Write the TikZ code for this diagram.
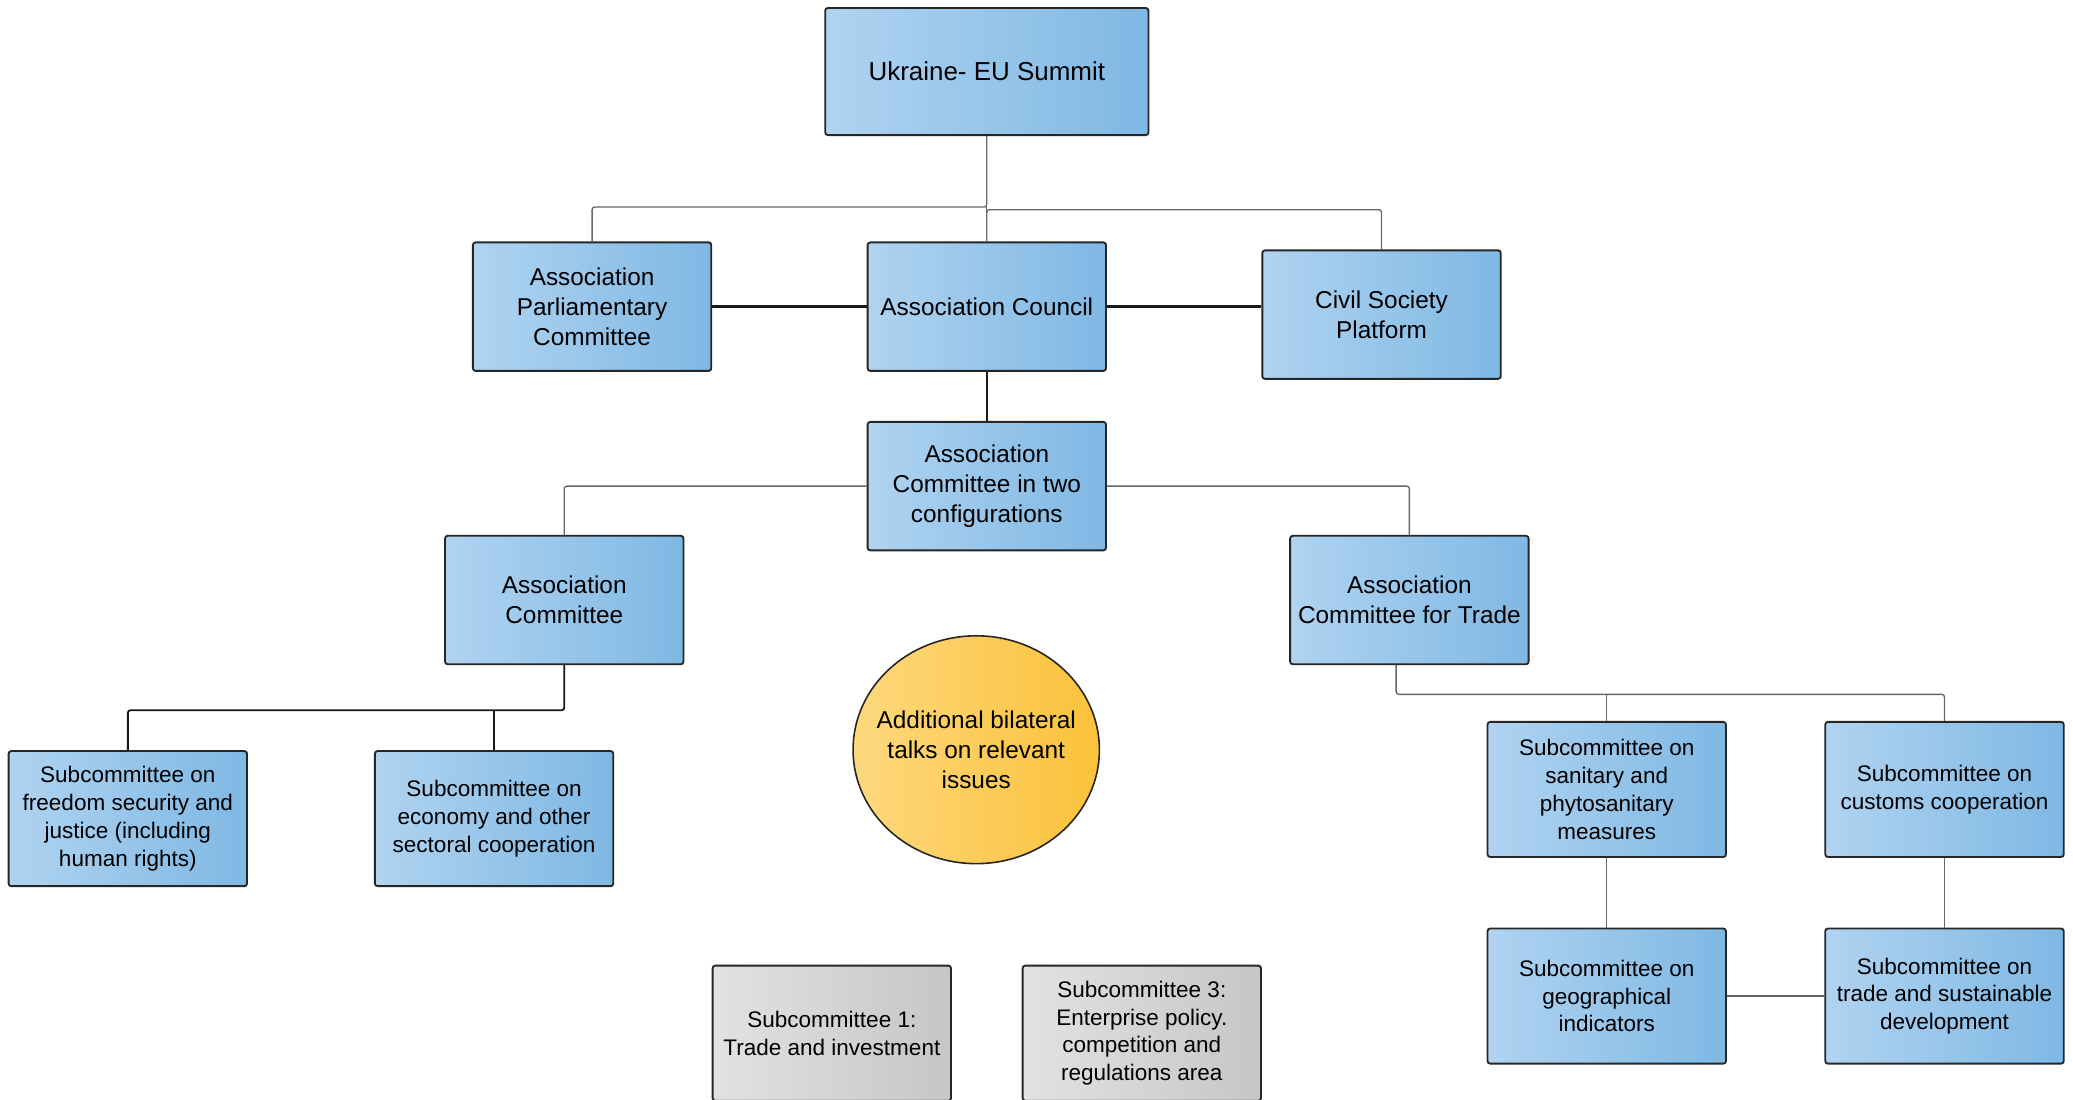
\documentclass[tikz,border=0pt]{standalone}
\usepackage{fontspec}
\setmainfont{Liberation Sans}
\usepackage{tikz}
\usetikzlibrary{positioning,shapes.geometric}

\definecolor{boxlight}{HTML}{B0D3F0}
\definecolor{boxdark}{HTML}{7FB8E4}
\definecolor{greylight}{HTML}{E2E2E2}
\definecolor{greydark}{HTML}{C6C6C6}
\definecolor{sunlight}{HTML}{FDD87E}
\definecolor{sundark}{HTML}{FBC23A}

\tikzset{
  bluebox/.style={draw=black!85, line width=0.7pt, rounded corners=1pt,
    left color=boxlight, right color=boxdark, align=center,
    minimum width=90pt, minimum height=48.5pt, inner sep=2pt,
    font=\fontsize{9.2}{11.25}\selectfont},
  subbox/.style={bluebox, minimum height=51pt,
    font=\fontsize{8.5}{10.5}\selectfont},
  greybox/.style={subbox, left color=greylight, right color=greydark},
  talks/.style={ellipse, draw=black!85, line width=0.6pt,
    left color=sunlight, right color=sundark, align=center,
    minimum width=93pt, minimum height=86pt, inner xsep=-5pt, inner ysep=0pt,
    font=\fontsize{9.2}{11.25}\selectfont},
  thinline/.style={draw=black!60, line width=0.5pt, rounded corners=1pt},
  boldline/.style={draw=black!90, line width=0.9pt, rounded corners=1pt}
}

\begin{document}
\begin{tikzpicture}[x=0.5pt, y=-0.5pt]
  \useasboundingbox (0,0) rectangle (1565,830);
  \node (summit) [bluebox, minimum width=122pt, minimum height=48pt,
    font=\fontsize{9.8}{12}\selectfont] at (745,54) {Ukraine- EU Summit};
  \node (council) [bluebox] at (745,231.5) {Association Council};
  \node (apc) [bluebox] at (447,231.5) {Association\\Parliamentary\\Committee};
  \node (csp) [bluebox] at (1043,237.5) {Civil Society\\Platform};
  \node (actwo) [bluebox] at (745,367) {Association\\Committee in two\\configurations};
  \node (ac) [bluebox] at (426,453) {Association\\Committee};
  \node (act) [bluebox] at (1064,453) {Association\\Committee for Trade};
  \node (subfree) [subbox] at (96.5,618)
    {Subcommittee on\\freedom security and\\justice (including\\human rights)};
  \node (subecon) [subbox] at (373,618)
    {Subcommittee on\\economy and other\\sectoral cooperation};
  \node (talks) [talks] at (737,566)
    {Additional bilateral\\talks on relevant\\issues};
  \node (sub1) [greybox] at (628,780) {Subcommittee 1:\\Trade and investment};
  \node (sub3) [greybox] at (862,780)
    {Subcommittee 3:\\Enterprise policy.\\competition and\\regulations area};
  \node (sps) [subbox] at (1213,596)
    {Subcommittee on\\sanitary and\\phytosanitary\\measures};
  \node (customs) [subbox] at (1468,596)
    {Subcommittee on\\customs cooperation};
  \node (geo) [subbox] at (1213,752)
    {Subcommittee on\\geographical\\indicators};
  \node (tsd) [subbox] at (1468,752)
    {Subcommittee on\\trade and sustainable\\development};

  \draw [thinline] (summit) -- (council);
  \draw [thinline] (apc.north) -- ++(0,-26) -| (summit.south);
  \draw [thinline] (csp.north) -- ++(0,-30) -| (council.north);
  \draw [boldline] (apc) -- (council);
  \draw [boldline] (council.east) -- (council.east -| csp.west);
  \draw [boldline] (council) -- (actwo);
  \draw [thinline] (actwo.west) -| (ac.north);
  \draw [thinline] (actwo.east) -| (act.north);
  \draw [boldline, line width=0.7pt] (ac.south) -- ++(0,34) coordinate (acj) -| (subfree.north);
  \draw [boldline, line width=0.7pt] (acj -| subecon.north) -- (subecon.north);
  \draw [thinline] ([xshift=-5pt]act.south) -- ++(0,22) coordinate (actj) -| (customs.north);
  \draw [thinline] (actj -| sps.north) -- (sps.north);
  \draw [thinline] (sps) -- (geo);
  \draw [thinline] (customs) -- (tsd);
  \draw [thinline] (geo) -- (tsd);
\end{tikzpicture}
\end{document}
